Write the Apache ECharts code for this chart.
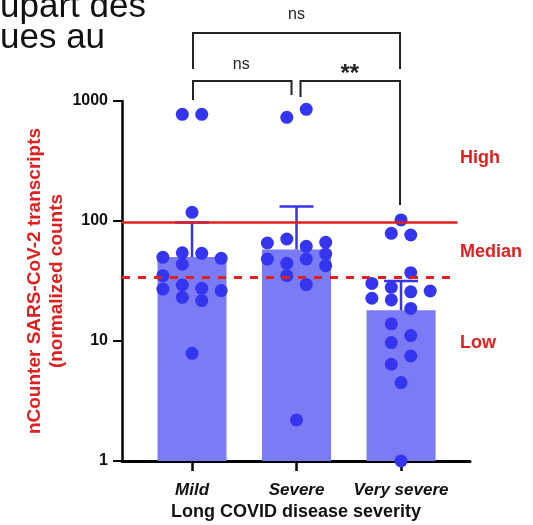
<!DOCTYPE html>
<html>
<head>
<meta charset="utf-8">
<script src="https://cdn.jsdelivr.net/npm/echarts@6/dist/echarts.min.js"></script>
<style>
  html, body { margin: 0; padding: 0; background: #fff; }
  #chart { width: 533px; height: 525px; }
</style>
</head>
<body>
<div id="chart"></div>
<script>
// data
var categories = ['Mild', 'Severe', 'Very severe'];
var yTicks = [1, 10, 100, 1000];
var barMeans = [50, 58, 18];
var errUpper = [97, 132, 31.6];
var highCut = 97;
var medianCut = 33.7;
var bandLabels = ['High', 'Median', 'Low'];

var mildValues = [774, 774, 118, 49.8, 54.4, 53.8, 48.9, 43.6, 35.0, 27.1, 29.3, 23.1, 27.5, 21.7, 26.3, 7.9];
var mildLanes = [-1, 1, 0, -3, -1, 1, 3, -1, -3, -3, -1, -1, 1, 1, 3, 0];
var severeValues = [731, 853, 65.6, 70.8, 61.5, 66.4, 48.2, 44.4, 35.0, 48.2, 29.5, 53.1, 42.4, 2.2];
var severeLanes = [-1, 1, -3, -1, 1, 3, -3, -1, -1, 1, 1, 3, 3, 0];
var verySevereValues = [102, 78.9, 76.4, 37.1, 30.2, 28.0, 25.7, 26.1, 22.7, 22.0, 18.7, 13.9, 11.1, 9.7, 7.5, 6.4, 4.5, 1.0];
var verySevereLanes = [0, -1, 1, 1, -3, -1, 1, 3, -3, -1, 1, -1, 1, -1, 1, -1, 0, 0];

var red = '#e0201f';
var dotBlue = '#3535ef';
var barBlue = '#7b7bf6';
var ink = '#111';
var font = "'Liberation Sans', Arial, sans-serif";
var laneStep = 0.093;

function dots(values, lanes, idx) {
  return values.map(function(v, i) { return [idx + lanes[i] * laneStep, v]; });
}
var dotData = [].concat(
  dots(mildValues, mildLanes, 0),
  dots(severeValues, severeLanes, 1),
  dots(verySevereValues, verySevereLanes, 2)
);

var chart = echarts.init(document.getElementById('chart'), null, { renderer: 'canvas' });
chart.setOption({
  animation: false,
  grid: { left: 122, right: 63, top: 101, bottom: 64, outerBoundsMode: 'none' },
  xAxis: {
    type: 'value',
    min: -0.67,
    max: 2.66,
    name: 'Long COVID disease severity',
    nameLocation: 'middle',
    nameGap: 42,
    nameMoveOverlap: false,
    nameTextStyle: { color: ink, fontSize: 18, fontWeight: 'bold', fontFamily: font },
    axisLine: { onZero: false, lineStyle: { color: '#000', width: 3 } },
    axisTick: { show: true, customValues: [0, 1, 2], length: 10, lineStyle: { color: '#000', width: 2.5 } },
    axisLabel: {
      customValues: [0, 1, 2],
      formatter: function(v) { return categories[Math.round(v)]; },
      color: ink, fontSize: 17, fontWeight: 'bold', fontStyle: 'italic', fontFamily: font, margin: 21
    },
    splitLine: { show: false }
  },
  yAxis: {
    type: 'log',
    logBase: 10,
    min: yTicks[0],
    max: yTicks[yTicks.length - 1],
    name: 'nCounter SARS-CoV-2 transcripts\n(normalized counts',
    nameLocation: 'middle',
    nameGap: 54,
    nameMoveOverlap: false,
    nameTextStyle: { color: red, fontSize: 19, fontWeight: 'bold', fontFamily: font, lineHeight: 22 },
    axisLine: { show: true, onZero: false, lineStyle: { color: '#000', width: 2.5 } },
    axisTick: { show: true, length: 9, lineStyle: { color: '#000', width: 2 } },
    axisLabel: {
      formatter: function(v) { return String(Math.round(v)); },
      color: ink, fontSize: 16, fontWeight: 'bold', fontFamily: font, margin: 14
    },
    splitLine: { show: false }
  },
  series: [
    {
      type: 'bar',
      barWidth: 69,
      itemStyle: { color: barBlue },
      data: barMeans.map(function(v, i) { return [i, v]; }),
      z: 1
    },
    {
      type: 'scatter',
      symbolSize: 13,
      itemStyle: { color: dotBlue, opacity: 1 },
      clip: false,
      data: dotData,
      z: 3
    },
    {
      type: 'custom',
      z: 4,
      clip: false,
      data: barMeans.map(function(v, i) { return [i, v, errUpper[i]]; }),
      renderItem: function(params, api) {
        var base = api.coord([api.value(0), api.value(1)]);
        var top = api.coord([api.value(0), api.value(2)]);
        return {
          type: 'group',
          children: [
            { type: 'line', shape: { x1: base[0], y1: base[1], x2: top[0], y2: top[1] },
              style: { stroke: dotBlue, lineWidth: 2.5 } },
            { type: 'line', shape: { x1: top[0] - 17, y1: top[1], x2: top[0] + 17, y2: top[1] },
              style: { stroke: dotBlue, lineWidth: 2.5 } }
          ]
        };
      }
    },
    {
      type: 'line',
      data: [],
      z: 5,
      markLine: {
        silent: true,
        symbol: 'none',
        label: { show: false },
        data: [
          [{ coord: [-0.67, highCut], lineStyle: { type: 'solid', width: 2.5, color: red } }, { coord: [2.54, highCut] }],
          [{ coord: [-0.67, medianCut], lineStyle: { type: [8, 8], width: 3, color: red } }, { coord: [2.54, medianCut] }]
        ]
      }
    }
  ]
});

// significance brackets and side labels
var cx = [0, 1, 2].map(function(i) { return chart.convertToPixel({ xAxisIndex: 0 }, i); });
var bracketStyle = { stroke: '#222', lineWidth: 2, fill: null };
var textStyle = function(txt, x, y, size, weight, color) {
  return { type: 'text', x: x, y: y, style: { text: txt, fill: color || '#222', font: weight + ' ' + size + 'px ' + font, align: 'center', verticalAlign: 'middle' } };
};
chart.setOption({
  graphic: [
    { type: 'polyline', shape: { points: [[cx[0] + 1, 69], [cx[0] + 1, 33], [cx[2] - 1, 33], [cx[2] - 1, 69]] }, style: bracketStyle },
    { type: 'polyline', shape: { points: [[cx[0] + 1, 100], [cx[0] + 1, 81], [cx[1] - 5, 81], [cx[1] - 5, 95]] }, style: bracketStyle },
    { type: 'polyline', shape: { points: [[cx[1] + 4, 97], [cx[1] + 4, 81], [cx[2] - 1, 81], [cx[2] - 1, 205]] }, style: bracketStyle },
    textStyle('ns', (cx[0] + cx[2]) / 2, 15, 16, 'normal'),
    textStyle('ns', (cx[0] + cx[1]) / 2 - 3, 65, 16, 'normal'),
    textStyle('**', (cx[1] + cx[2]) / 2 + 1, 74, 24, 'bold'),
    { type: 'text', x: 460, y: 158, style: { text: bandLabels[0], fill: red, font: 'bold 18px ' + font, verticalAlign: 'middle' } },
    { type: 'text', x: 460, y: 252, style: { text: bandLabels[1], fill: red, font: 'bold 18px ' + font, verticalAlign: 'middle' } },
    { type: 'text', x: 460, y: 343, style: { text: bandLabels[2], fill: red, font: 'bold 18px ' + font, verticalAlign: 'middle' } },
    { type: 'text', x: 0, y: 7, style: { text: 'upart des', fill: ink, font: '35px ' + font, verticalAlign: 'middle' } },
    { type: 'text', x: 0, y: 38, style: { text: 'ues au', fill: ink, font: '35px ' + font, verticalAlign: 'middle' } }
  ]
});
window.addEventListener('resize', function() { chart.resize(); });
</script>
</body>
</html>
